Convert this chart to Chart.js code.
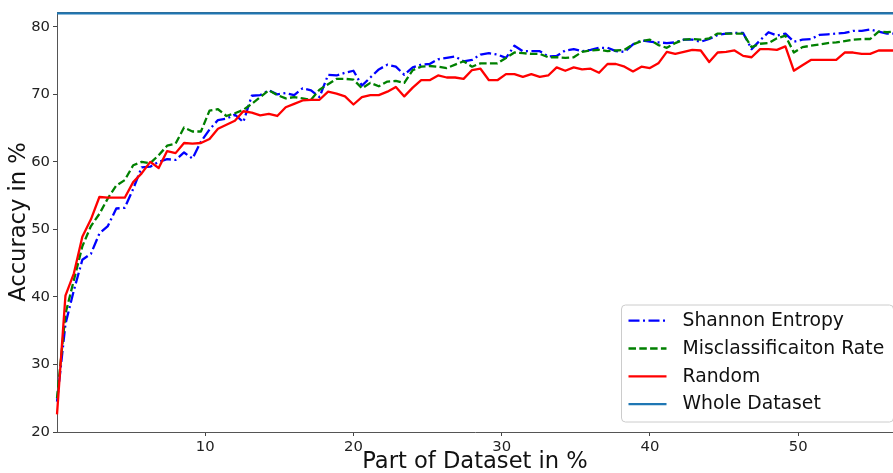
<!DOCTYPE html>
<html>
<head>
<meta charset="utf-8">
<script src="https://cdn.jsdelivr.net/npm/chart.js@4.4.0/dist/chart.umd.min.js"></script>
<style>
html,body{margin:0;padding:0;background:#ffffff;}
canvas{display:block;}
</style>
</head>
<body>
<canvas id="c" width="893" height="473"></canvas>
<script>
// Part of dataset (x, in %)
const percent = [0.00,0.57,1.14,1.71,2.29,2.86,3.43,4.00,4.57,5.14,
5.71,6.29,6.86,7.43,8.00,8.57,9.14,9.71,10.29,10.86,
11.43,12.00,12.57,13.14,13.71,14.29,14.86,15.43,16.00,16.57,
17.14,17.71,18.29,18.86,19.43,20.00,20.57,21.14,21.71,22.29,
22.86,23.43,24.00,24.57,25.14,25.71,26.29,26.86,27.43,28.00,
28.57,29.14,29.71,30.29,30.86,31.43,32.00,32.57,33.14,33.71,
34.29,34.86,35.43,36.00,36.57,37.14,37.71,38.29,38.86,39.43,
40.00,40.57,41.14,41.71,42.29,42.86,43.43,44.00,44.57,45.14,
45.71,46.29,46.86,47.43,48.00,48.57,49.14,49.71,50.29,50.86,
51.43,52.00,52.57,53.14,53.71,54.29,54.86,55.43,56.00,56.57];

const shannonEntropy = [24.5,36.0,41.0,45.5,46.4,49.4,50.5,53.1,53.2,56.0,
59.2,59.3,60.0,60.4,60.3,61.4,60.5,63.0,64.8,66.2,
66.4,67.0,65.9,69.8,69.9,70.6,70.0,70.2,69.9,70.9,
70.6,69.6,72.9,72.8,73.2,73.5,71.3,72.5,73.7,74.4,
74.1,72.9,74.0,74.4,74.5,75.2,75.4,75.6,74.9,75.1,
75.9,76.1,75.9,75.4,77.2,76.4,76.4,76.4,75.6,75.7,
76.5,76.7,76.4,76.6,76.9,76.9,76.4,76.3,77.4,78.0,
77.8,77.7,77.6,77.7,78.1,78.1,77.8,78.2,78.8,79.0,
79.1,79.1,76.7,78.0,79.2,78.7,79.0,77.8,78.1,78.2,
78.8,78.9,79.0,79.1,79.4,79.4,79.6,79.3,79.0,79.0];

const misclassificationRate = [25.0,37.5,42.5,47.5,50.5,52.3,54.6,56.5,57.3,59.5,
60.0,59.8,61.0,62.4,62.7,65.1,64.5,64.5,67.6,67.8,
66.8,67.2,67.7,68.6,69.6,70.6,69.9,69.4,69.6,69.4,
69.2,70.7,71.5,72.3,72.3,72.2,70.9,71.7,71.2,71.9,
72.0,71.7,73.6,74.1,74.2,74.1,73.9,74.4,74.9,74.1,
74.6,74.6,74.6,75.4,76.2,76.1,76.0,76.0,75.5,75.5,
75.4,75.5,76.3,76.5,76.6,76.4,76.5,76.6,77.4,77.9,
78.1,77.3,76.9,77.6,78.1,78.2,78.1,78.3,79.0,79.0,
79.0,79.0,77.0,77.5,77.6,78.3,78.7,76.2,77.0,77.2,
77.4,77.6,77.7,77.9,78.1,78.2,78.2,79.3,79.2,79.3];

const randomSelection = [22.6,40.2,43.5,48.9,51.5,54.8,54.7,54.7,54.7,57.0,
58.3,60.0,59.1,61.6,61.3,62.8,62.7,62.8,63.4,64.9,
65.5,66.1,67.5,67.3,66.9,67.1,66.8,68.1,68.6,69.1,
69.2,69.2,70.4,70.1,69.7,68.5,69.6,69.9,69.9,70.4,
71.1,69.7,71.0,72.1,72.1,72.8,72.5,72.5,72.3,73.6,
73.8,72.1,72.1,73.0,73.0,72.6,73.0,72.6,72.8,74.0,
73.5,74.0,73.7,73.8,73.2,74.5,74.5,74.1,73.4,74.1,
73.9,74.6,76.3,76.0,76.3,76.6,76.5,74.8,76.2,76.3,
76.5,75.7,75.5,76.7,76.7,76.6,77.1,73.5,74.3,75.1,
75.1,75.1,75.1,76.2,76.2,76.0,76.0,76.5,76.5,76.5];

const wholeDataset = 82.0;

const xTicks = [10, 20, 30, 40, 50];
const yTicks = [20, 30, 40, 50, 60, 70, 80];

const FONT = "'DejaVu Sans', 'Liberation Sans', sans-serif";

function toPoints(values) {
  return percent.map((x, i) => ({ x: x, y: values[i] }));
}

const datasets = [
  {
    label: 'Shannon Entropy',
    data: toPoints(shannonEntropy),
    borderColor: '#0000ff',
    borderWidth: 2.3,
    borderDash: [11, 3.5, 2, 3.5],
    order: 4
  },
  {
    label: 'Misclassificaiton Rate',
    data: toPoints(misclassificationRate),
    borderColor: '#008000',
    borderWidth: 2.3,
    borderDash: [7.5, 3.3],
    order: 3
  },
  {
    label: 'Random',
    data: toPoints(randomSelection),
    borderColor: '#ff0000',
    borderWidth: 2.3,
    borderDash: [],
    order: 2
  },
  {
    label: 'Whole Dataset',
    data: [{ x: percent[0], y: wholeDataset }, { x: percent[percent.length - 1], y: wholeDataset }],
    borderColor: '#1f77b4',
    borderWidth: 2.4,
    borderDash: [],
    order: 1
  }
];
datasets.forEach(d => {
  d.pointRadius = 0;
  d.pointHoverRadius = 0;
  d.tension = 0;
  d.fill = false;
  d.borderJoinStyle = 'round';
  d.backgroundColor = d.borderColor;
  d.clip = 4;
});

const spinePlugin = {
  id: 'topSpine',
  beforeDatasetsDraw(chart) {
    const { ctx, chartArea: ca } = chart;
    ctx.save();
    ctx.strokeStyle = '#555555';
    ctx.lineWidth = 1;
    ctx.beginPath();
    ctx.moveTo(ca.left, Math.round(ca.top) + 0.5);
    ctx.lineTo(ca.right, Math.round(ca.top) + 0.5);
    ctx.stroke();
    ctx.restore();
  }
};

const legendPlugin = {
  id: 'mplLegend',
  afterDraw(chart) {
    const { ctx, chartArea: ca } = chart;
    const w = 272, h = 117, r = 4;
    const x0 = ca.right - w + 0.5, y0 = ca.bottom - 10 - h;
    ctx.save();
    ctx.beginPath();
    ctx.moveTo(x0 + r, y0);
    ctx.lineTo(x0 + w - r, y0);
    ctx.arcTo(x0 + w, y0, x0 + w, y0 + r, r);
    ctx.lineTo(x0 + w, y0 + h - r);
    ctx.arcTo(x0 + w, y0 + h, x0 + w - r, y0 + h, r);
    ctx.lineTo(x0 + r, y0 + h);
    ctx.arcTo(x0, y0 + h, x0, y0 + h - r, r);
    ctx.lineTo(x0, y0 + r);
    ctx.arcTo(x0, y0, x0 + r, y0, r);
    ctx.closePath();
    ctx.fillStyle = 'rgba(255,255,255,0.8)';
    ctx.fill();
    ctx.strokeStyle = '#cccccc';
    ctx.lineWidth = 1;
    ctx.stroke();
    chart.data.datasets.forEach((ds, k) => {
      const yy = y0 + 15.7 + 27.8 * k;
      ctx.beginPath();
      ctx.setLineDash(ds.borderDash || []);
      ctx.strokeStyle = ds.borderColor;
      ctx.lineWidth = ds.borderWidth;
      ctx.moveTo(x0 + 7, yy);
      ctx.lineTo(x0 + 45, yy);
      ctx.stroke();
      ctx.setLineDash([]);
      ctx.fillStyle = '#111111';
      ctx.font = '18.8px ' + FONT;
      ctx.textAlign = 'left';
      ctx.textBaseline = 'middle';
      ctx.fillText(ds.label, x0 + 61, yy + 0.5);
    });
    ctx.restore();
  }
};

new Chart(document.getElementById('c').getContext('2d'), {
  type: 'line',
  data: { datasets: datasets },
  options: {
    responsive: false,
    animation: false,
    devicePixelRatio: 1,
    layout: { padding: { top: 12, right: 0, bottom: 0, left: 0 } },
    plugins: {
      legend: { display: false },
      tooltip: { enabled: false }
    },
    scales: {
      x: {
        type: 'linear',
        min: 0,
        max: 56.4,
        afterBuildTicks: s => { s.ticks = xTicks.map(v => ({ value: v })); },
        afterFit: s => { s.height = 41; },
        grid: { display: true, drawOnChartArea: false, drawTicks: true, tickLength: 4, color: '#444444', lineWidth: 1 },
        border: { display: true, color: '#555555', width: 1 },
        ticks: { font: { family: FONT, size: 14.8 }, color: '#222222', padding: 2, maxRotation: 0, autoSkip: false },
        title: { display: true, text: 'Part of Dataset in %', font: { family: FONT, size: 22.6, lineHeight: 0.96 }, color: '#111111', padding: { top: 0, bottom: 0 } }
      },
      y: {
        type: 'linear',
        min: 20,
        max: 82.2,
        afterBuildTicks: s => { s.ticks = yTicks.map(v => ({ value: v })); },
        afterFit: s => { s.width = 57; },
        grid: { display: true, drawOnChartArea: false, drawTicks: true, tickLength: 4, color: '#444444', lineWidth: 1 },
        border: { display: true, color: '#555555', width: 1 },
        ticks: { font: { family: FONT, size: 14.8 }, color: '#222222', padding: 3 },
        title: { display: true, text: 'Accuracy in %', font: { family: FONT, size: 22.6, lineHeight: 1 }, color: '#111111', padding: { top: 8, bottom: 0 } }
      }
    }
  },
  plugins: [spinePlugin, legendPlugin]
});
</script>
</body>
</html>
